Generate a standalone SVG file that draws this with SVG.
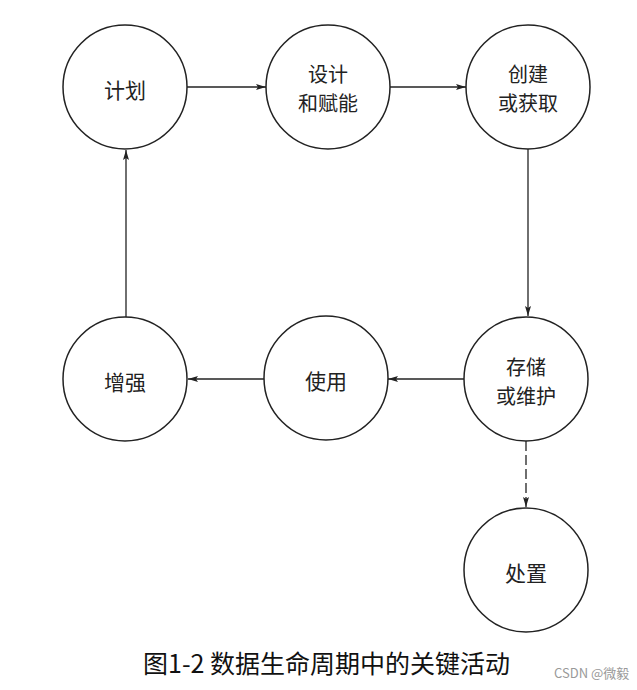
<svg xmlns="http://www.w3.org/2000/svg" width="637" height="690" viewBox="0 0 637 690">
<style>
.node circle{fill:#fff;stroke:#222;stroke-width:1.5}
.node text{font-family:"Noto Sans CJK SC","Noto Sans",sans-serif;font-size:21px;fill:#222;text-anchor:middle;dominant-baseline:central}
.node text.two{font-size:20px}
.conn line{stroke:#222;stroke-width:1.3}
.dash{stroke-dasharray:10 4}
.cap{font-family:"Noto Sans CJK SC","Noto Sans",sans-serif;font-size:25px;fill:#111}
.wm{font-family:"Noto Sans CJK SC","Liberation Sans",sans-serif;font-size:13px;fill:#999}
</style>
<defs>
<marker id="ah" viewBox="0 0 10 6" refX="10" refY="3" markerWidth="10" markerHeight="6" markerUnits="userSpaceOnUse" orient="auto">
<path d="M0,0 L10,3 L0,6 L2,3 Z" fill="#222"/>
</marker>
</defs>
<rect width="637" height="690" fill="#fff"/>
<g id="connectors" class="conn">
<line x1="187" y1="87" x2="266" y2="87" marker-end="url(#ah)"/>
<line x1="390" y1="87" x2="466" y2="87" marker-end="url(#ah)"/>
<line x1="528" y1="149" x2="528" y2="316" marker-end="url(#ah)"/>
<line x1="464" y1="379" x2="388" y2="379" marker-end="url(#ah)"/>
<line x1="264" y1="379" x2="188" y2="379" marker-end="url(#ah)"/>
<line x1="126" y1="317" x2="126" y2="150" marker-end="url(#ah)"/>
<line class="dash" x1="526" y1="441" x2="526" y2="507" marker-end="url(#ah)"/>
</g>
<g id="plan" class="node"><circle cx="125" cy="87" r="62"/><text x="125" y="89">计划</text></g>
<g id="design" class="node"><circle cx="328" cy="87" r="62"/><text class="two" x="328" y="73">设计</text><text class="two" x="328" y="102">和赋能</text></g>
<g id="create" class="node"><circle cx="528" cy="87" r="62"/><text class="two" x="528" y="73">创建</text><text class="two" x="528" y="102">或获取</text></g>
<g id="store" class="node"><circle cx="526" cy="379" r="62"/><text class="two" x="526" y="366">存储</text><text class="two" x="526" y="395">或维护</text></g>
<g id="use" class="node"><circle cx="326" cy="378" r="62"/><text x="326" y="380">使用</text></g>
<g id="enhance" class="node"><circle cx="125" cy="379" r="62"/><text x="125" y="381">增强</text></g>
<g id="dispose" class="node"><circle cx="526" cy="570" r="62"/><text x="526" y="572">处置</text></g>
<text class="cap" x="143" y="673">图1-2 数据生命周期中的关键活动</text>
<text class="wm" x="554" y="678">CSDN @微毅</text>
</svg>
